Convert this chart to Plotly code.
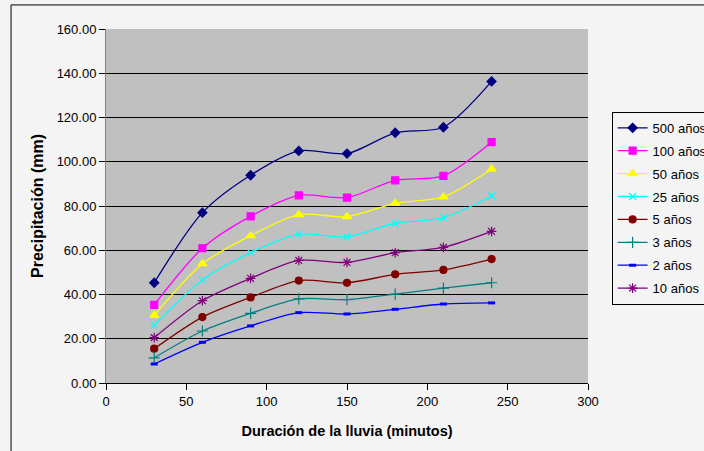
import plotly.graph_objects as go

durations = [30, 60, 90, 120, 150, 180, 210, 240]
series_names = ["500 años", "100 años", "50 años", "25 años", "5 años", "3 años", "2 años", "10 años"]
p500 = [45.3, 77.0, 93.9, 104.9, 103.7, 113.1, 115.6, 136.3]
p100 = [35.3, 60.9, 75.3, 84.8, 83.8, 91.6, 93.6, 108.9]
p50 = [30.6, 53.9, 66.6, 76.1, 75.2, 81.2, 84.1, 96.7]
p25 = [26.2, 46.6, 58.9, 67.3, 66.1, 72.2, 74.7, 84.5]
p5 = [15.5, 29.8, 38.7, 46.3, 45.3, 49.1, 51.1, 56.0]
p3 = [11.4, 23.5, 31.5, 38.0, 37.7, 40.2, 42.9, 45.3]
p2 = [8.6, 18.4, 25.8, 31.8, 31.2, 33.3, 35.7, 36.2]
p10 = [20.5, 37.2, 47.3, 55.4, 54.5, 58.9, 61.3, 68.5]
values = [p500, p100, p50, p25, p5, p3, p2, p10]

colors = ["#000080", "#ff00ff", "#ffff00", "#00ffff", "#800000", "#008080", "#0000ff", "#800080"]
symbols = ["diamond", "square", "triangle-up", "x-thin-open", "circle", "cross-thin-open", "line-ew-open", "asterisk-open"]
sizes = [7, 7, 8, 7, 7, 8, 5, 8]

fig = go.Figure()
for i, (name, vals) in enumerate(zip(series_names, values)):
    c = colors[i]
    fig.add_trace(go.Scatter(
        x=durations, y=vals, name=name, mode="lines+markers",
        line=dict(color=c, width=1.3, shape="spline", smoothing=0.8),
        marker=dict(symbol=symbols[i], size=sizes[i], color=c,
                    line=dict(color=c, width=3 if symbols[i] == "line-ew-open" else 1.2)),
        legendgroup=name,
    ))

font = "Arial, Liberation Sans, sans-serif"
fig.update_layout(
    width=704, height=451,
    margin=dict(l=106, r=116, t=29, b=68, autoexpand=False),
    paper_bgcolor="#f4f4f4",
    plot_bgcolor="#c0c0c0",
    font=dict(family=font, size=13, color="#000000"),
    showlegend=True,
    legend=dict(x=1.049, y=0.766, xanchor="left", yanchor="top",
                bgcolor="#f4f4f4", bordercolor="#000000", borderwidth=1,
                font=dict(size=13), tracegroupgap=3, itemwidth=30),
    xaxis=dict(range=[0, 300], dtick=50, showgrid=False, zeroline=False,
               showline=True, linecolor="#000000", linewidth=1,
               ticks="outside", ticklen=6, tickcolor="#000000",
               tickfont=dict(size=13),
               title=dict(text="<b>Duración de la lluvia (minutos)</b>", font=dict(size=14.5), standoff=18)),
    yaxis=dict(range=[0, 160], dtick=20, tickformat=".2f", showgrid=True,
               gridcolor="#000000", gridwidth=1, zeroline=False,
               showline=True, linecolor="#808080", linewidth=1,
               ticks="outside", ticklen=6, tickcolor="#000000",
               tickfont=dict(size=13),
               title=dict(text="<b>Precipitación (mm)</b>", font=dict(size=16), standoff=9)),
    shapes=[dict(type="rect", xref="paper", yref="paper",
                 x0=-0.197, y0=-0.3, x1=1.4, y1=1.068,
                 line=dict(color="#000000", width=1), fillcolor="rgba(0,0,0,0)", layer="below")],
)

fig.write_html("out.html")
